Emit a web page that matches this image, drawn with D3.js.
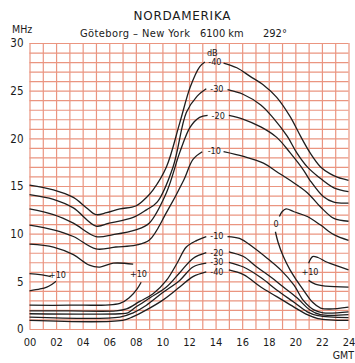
<!DOCTYPE html>
<html>
<head>
  <script src="https://d3js.org/d3.v7.min.js"></script>
  <style>
    body { margin: 0; background: #fff; }
    text { font-family: "Liberation Sans Narrow", "DejaVu Sans Condensed", "Liberation Sans", sans-serif; fill: #1a1a1a; }
  </style>
</head>
<body>
  <div id="chart_div"></div>

  <script>
    // tick labels
    var xTickValues = [0, 2, 4, 6, 8, 10, 12, 14, 16, 18, 20, 22, 24];
    var yTickValues = [0, 5, 10, 15, 20, 25, 30];

    // contour curves, [GMT hour, MHz], split where a label sits on the line
    var hiM40a = [[0,15.1],[1.8,14.6],[3.3,13.8],[4.3,12.7],[5,12.0],[5.8,12.2],[6.8,12.6],[8,12.9],[8.8,13.8],[9.3,14.6],[10.3,17.0],[11.3,21.6],[12.1,25.4],[12.8,27.5],[13.2,28.0]];
    var hiM40b = [[14.6,27.9],[15.6,27.4],[16.6,26.5],[17.6,25.6],[18.6,24.3],[19.6,22.3],[20.4,20.2],[21.1,18.5],[21.9,17.0],[22.6,16.3],[23.2,15.9],[24,15.6]];
    var hiM30a = [[0,14.1],[1.8,13.6],[3.3,12.7],[5,10.8],[6,11.1],[7.8,11.7],[8.8,12.5],[9.6,13.3],[10.8,17.0],[11.8,22.7],[12.6,24.4],[13.3,25.2]];
    var hiM30b = [[14.9,25.1],[16.1,24.6],[17.4,23.5],[18.3,22.2],[19.4,20.2],[20.1,18.5],[20.9,17.0],[21.7,16.0],[22.9,14.8],[24,14.4]];
    var hiM20a = [[0,12.6],[1.8,12.0],[3.3,11.1],[5,9.7],[6.3,9.9],[8,10.4],[9,11.1],[10.3,14.3],[11.3,18.5],[12.1,21.2],[12.8,22.2],[13.4,22.4]];
    var hiM20b = [[15,22.4],[16.1,22.0],[17.4,21.2],[18.6,20.1],[19.6,18.5],[20.6,16.7],[21.1,15.6],[22.1,13.9],[22.9,13.3],[24,13.2]];
    var hiM10a = [[0,10.9],[1.8,10.4],[3.3,9.7],[5,8.4],[6.5,8.6],[8,8.8],[9,9.3],[10.3,12.2],[11.6,15.6],[12.3,17.8],[13,18.6]];
    var hiM10b = [[14.6,18.6],[16.1,18.1],[17.6,17.4],[18.6,16.5],[19.6,15.6],[20.9,14.3],[21.9,12.8],[22.9,11.6],[24,11.3]];
    var hiZeroLeft = [[0,8.9],[1.8,8.6],[3.3,7.8],[4.5,6.7],[5.3,6.5],[6.3,6.9],[7.8,6.8]];
    var loZeroLeft = [[0,2.5],[3,2.5],[6.8,2.7],[7.6,3.4],[8.1,4.2],[8.4,4.9]];
    var p10LeftHi = [[0,5.8],[0.8,5.7],[1.6,5.5]];
    var p10LeftLo = [[0,4.0],[0.8,4.2],[1.3,4.4],[1.7,4.7],[2.0,5.0]];
    var loM10a = [[0,1.9],[3,1.9],[6.5,1.9],[7.3,2.1],[8.3,2.9],[9.3,3.7],[10.3,5.1],[11.1,6.9],[11.8,8.6],[12.6,9.3],[13.3,9.7]];
    var loM10b = [[14.9,9.7],[15.8,9.5],[16.8,8.6],[17.9,7.4],[18.9,6.2],[19.9,4.6],[20.6,3.0],[21.4,2.0],[22.1,1.7],[24,1.8]];
    var loM20a = [[0,1.6],[6.8,1.6],[7.4,1.7],[8,2.3],[9.1,3.3],[10.3,4.4],[11.3,5.9],[12.3,7.4],[13.3,8.0]];
    var loM20b = [[15,8.1],[16.1,7.6],[17.1,6.5],[18.1,5.5],[19.1,4.4],[20.1,3.3],[21.1,2.0],[21.9,1.5],[24,1.5]];
    var loM30a = [[0,1.25],[6.8,1.25],[7.8,1.7],[8.8,2.5],[10,3.8],[11.3,5.1],[12.3,6.5],[13.3,6.9]];
    var loM30b = [[15,7.0],[16.1,6.5],[17.4,5.4],[18.6,4.1],[19.9,2.8],[20.9,1.8],[21.7,1.4],[24,1.2]];
    var loM40a = [[0,0.9],[7,0.9],[7.8,1.3],[8.8,2.0],[10,3.0],[11.3,4.4],[12.3,5.5],[13.3,6.0]];
    var loM40b = [[15,6.2],[16.1,5.7],[17.4,4.4],[18.6,3.4],[19.9,2.3],[20.9,1.5],[21.7,1.1],[24,0.9]];
    var zeroRightHi = [[18.8,11.8],[19.0,12.3],[19.3,12.6],[19.9,12.3],[20.9,11.8],[21.9,10.9],[22.9,9.9],[24,9.3]];
    var zeroRightLo = [[18.5,10.2],[18.7,9.1],[19.1,7.6],[19.6,6.2],[20.1,5.1],[20.6,4.1],[21.3,2.8],[21.9,2.2],[22.6,2.1],[24,2.3]];
    var p10RightHi = [[21.0,6.9],[21.3,7.6],[21.7,7.5],[22.4,7.0],[23.2,6.6],[24,6.2]];
    var p10RightLo = [[21.0,5.1],[21.5,4.7],[22.3,4.5],[24,4.4]];

    // contour labels at [GMT hour, MHz]
    var labelText = ["dB", "-40", "-30", "-20", "-10", "-10", "-20", "-30", "-40", "0", "+10", "+10", "+10"];
    var labelAt = [[13.75,29.0],[13.95,28.0],[14.1,25.2],[14.2,22.4],[13.9,18.7],[14.1,9.8],[14.1,8.0],[14.1,7.0],[14.1,6.0],[18.55,11.0],[2.1,5.7],[8.2,5.8],[21.1,5.95]];

    var curves = [hiM40a, hiM40b, hiM30a, hiM30b, hiM20a, hiM20b, hiM10a, hiM10b,
      hiZeroLeft, loZeroLeft, p10LeftHi, p10LeftLo,
      loM10a, loM10b, loM20a, loM20b, loM30a, loM30b, loM40a, loM40b,
      zeroRightHi, zeroRightLo, p10RightHi, p10RightLo];

    var W = 355, H = 363;
    var margin = { top: 43, right: 6.5, bottom: 34, left: 29.5 };
    var width = W - margin.left - margin.right;
    var height = H - margin.top - margin.bottom;

    var svg = d3.select("#chart_div")
      .append("svg")
      .attr("width", W)
      .attr("height", H);

    var g = svg.append("g")
      .attr("transform", "translate(" + margin.left + "," + margin.top + ")");

    var x = d3.scaleLinear().domain([0, 24]).range([0, width]);
    var y = d3.scaleLinear().domain([0, 30]).range([height, 0]);

    // red grid, one line per hour and per MHz
    g.append("g")
      .attr("class", "grid-x")
      .call(d3.axisBottom(x).tickValues(d3.range(0, 25)).tickSize(height).tickFormat(""))
      .call(function(s) { s.select(".domain").remove(); })
      .selectAll("line")
      .attr("stroke", "#ea9580")
      .attr("stroke-width", 1.2);

    g.append("g")
      .attr("class", "grid-y")
      .call(d3.axisRight(y).tickValues(d3.range(0, 31)).tickSize(width).tickFormat(""))
      .call(function(s) { s.select(".domain").remove(); })
      .selectAll("line")
      .attr("stroke", "#ea9580")
      .attr("stroke-width", 1.2);

    // tick labels
    var xAxis = g.append("g")
      .attr("transform", "translate(0," + height + ")")
      .call(d3.axisBottom(x).tickValues(xTickValues).tickSize(0).tickPadding(9).tickFormat(d3.format("02d")));
    xAxis.select(".domain").remove();
    xAxis.selectAll("text")
      .attr("font-size", 11)
      .attr("fill", "#1a1a1a");

    var yAxis = g.append("g")
      .call(d3.axisLeft(y).tickValues(yTickValues).tickSize(0).tickPadding(6));
    yAxis.select(".domain").remove();
    yAxis.selectAll("text")
      .attr("font-size", 11.5)
      .attr("fill", "#1a1a1a");

    // contour lines
    var line = d3.line()
      .x(function(d) { return x(d[0]); })
      .y(function(d) { return y(d[1]); })
      .curve(d3.curveCatmullRom.alpha(0.5));

    g.selectAll(".contour")
      .data(curves)
      .enter()
      .append("path")
      .attr("class", "contour")
      .attr("d", line)
      .attr("fill", "none")
      .attr("stroke", "#1e1e1e")
      .attr("stroke-width", 1.3)
      .attr("stroke-linejoin", "round");

    g.selectAll(".clabel")
      .data(labelAt)
      .enter()
      .append("text")
      .attr("class", "clabel")
      .attr("x", function(d) { return x(d[0]); })
      .attr("y", function(d) { return y(d[1]); })
      .attr("dy", "0.35em")
      .attr("text-anchor", "middle")
      .attr("font-size", 9)
      .attr("fill", "#333")
      .text(function(d, i) { return labelText[i]; });

    // titles
    svg.append("text")
      .attr("x", 182)
      .attr("y", 19.5)
      .attr("text-anchor", "middle")
      .attr("font-size", 12)
      .style("font-family", "'DejaVu Sans', sans-serif")
      .attr("textLength", 97)
      .attr("lengthAdjust", "spacing")
      .text("NORDAMERIKA");

    svg.append("text")
      .attr("x", 80)
      .attr("y", 36.5)
      .attr("font-size", 11)
      .attr("textLength", 110)
      .text("Göteborg – New York");

    svg.append("text")
      .attr("x", 200)
      .attr("y", 36.5)
      .attr("font-size", 11)
      .text("6100 km");

    svg.append("text")
      .attr("x", 263)
      .attr("y", 36.5)
      .attr("font-size", 11)
      .text("292°");

    svg.append("text")
      .attr("x", 12)
      .attr("y", 33)
      .attr("font-size", 10.5)
      .text("MHz");

    svg.append("text")
      .attr("x", 354)
      .attr("y", 359)
      .attr("text-anchor", "end")
      .attr("font-size", 10.5)
      .text("GMT");
  </script>
</body>
</html>
